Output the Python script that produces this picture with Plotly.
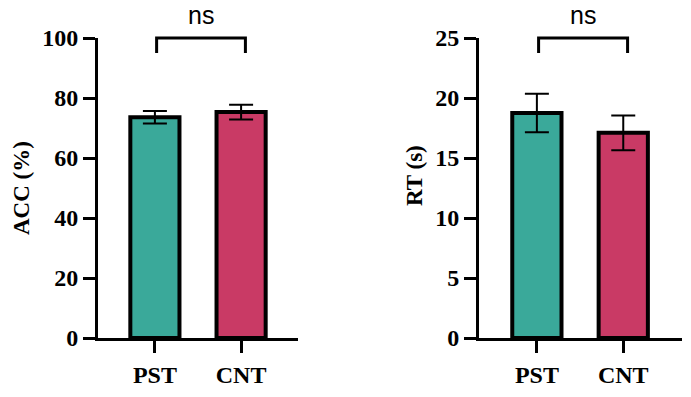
import plotly.graph_objects as go

# ---- data ----
groups = ["PST", "CNT"]
acc_mean = [73.6, 75.3]
acc_sem = [2.1, 2.45]
rt_mean = [18.75, 17.1]
rt_sem = [1.6, 1.45]
bar_colors = ["#3AA99A", "#C93A65"]
acc_ticks = [0, 20, 40, 60, 80, 100]
rt_ticks = [0, 5, 10, 15, 20, 25]
acc_title = "ACC (%)"
rt_title = "RT (s)"
sig_label = "ns"

W, H = 691, 397
serif = "Liberation Serif"
fig = go.Figure()

def add_panel(xa, ya, means, sems):
    fig.add_trace(go.Bar(
        x=groups, y=means, xaxis=xa, yaxis=ya,
        marker=dict(color=bar_colors, line=dict(color="black", width=4)),
        width=0.57,
        error_y=dict(type="data", array=sems, visible=True, color="black",
                     thickness=2, width=12),
        showlegend=False,
    ))

add_panel("x", "y", acc_mean, acc_sem)
add_panel("x2", "y2", rt_mean, rt_sem)

ydom = [(H - 338) / H, (H - 38) / H]
axis_common = dict(showline=True, linecolor="black", linewidth=3,
                   ticks="outside", ticklen=12, tickwidth=3, tickcolor="black",
                   showgrid=False, zeroline=False, automargin=False,
                   tickfont=dict(family=serif, size=24, color="black", weight="bold"))

fig.update_layout(
    template="none",
    width=W, height=H, margin=dict(l=0, r=0, t=0, b=0, pad=0),
    paper_bgcolor="white", plot_bgcolor="white",
    xaxis=dict(domain=[98 / W, 298 / W], range=[-0.66, 1.66], anchor="y",
               ticklabelstandoff=1, **axis_common),
    yaxis=dict(domain=ydom, range=[0, acc_ticks[-1]], tickvals=acc_ticks, anchor="x",
               **axis_common),
    xaxis2=dict(domain=[479 / W, 682 / W], range=[-0.67, 1.68], anchor="y2",
                ticklabelstandoff=1, **axis_common),
    yaxis2=dict(domain=ydom, range=[0, rt_ticks[-1]], tickvals=rt_ticks, anchor="x2",
                **axis_common),
)

# significance brackets and labels
for xr, yr in [("x", "y domain"), ("x2", "y2 domain")]:
    fig.add_shape(type="path", xref=xr, yref=yr,
                  path="M 0.02 0.95 L 0.02 1 L 1.05 1 L 1.05 0.95",
                  line=dict(color="black", width=3))
    fig.add_annotation(text=sig_label, xref=xr, yref=yr, x=0.535, y=1,
                       yanchor="bottom", yshift=7, showarrow=False,
                       font=dict(family="Liberation Sans", size=25, color="black"))

# axis titles
fig.add_annotation(text=acc_title, textangle=-90, xref="paper", yref="paper",
                   x=22 / W, y=(H - 188) / H, xanchor="center", yanchor="middle",
                   showarrow=False,
                   font=dict(family=serif, size=23, color="black", weight="bold"))
fig.add_annotation(text=rt_title, textangle=-90, xref="paper", yref="paper",
                   x=414 / W, y=(H - 176) / H, xanchor="center", yanchor="middle",
                   showarrow=False,
                   font=dict(family=serif, size=23, color="black", weight="bold"))

fig.write_html("out.html")
